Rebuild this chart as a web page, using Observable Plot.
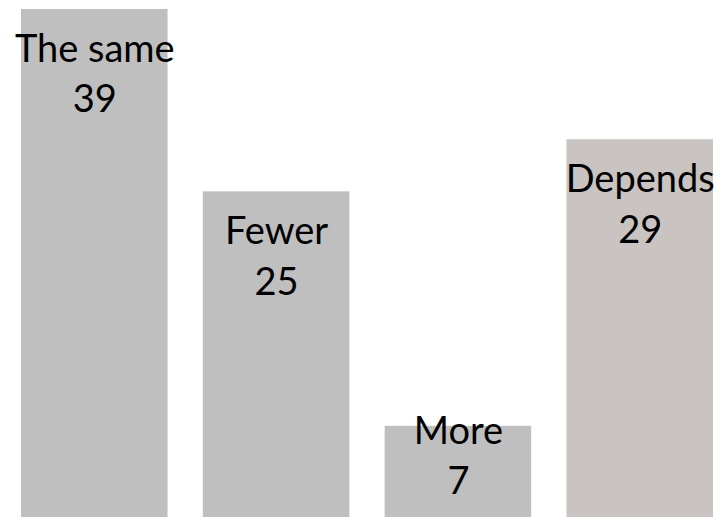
<!DOCTYPE html>
<html>
<head>
<meta charset="utf-8">
<script src="https://cdn.jsdelivr.net/npm/d3@7"></script>
<script src="https://cdn.jsdelivr.net/npm/@observablehq/plot@0.6"></script>
<style>
  html, body { margin: 0; padding: 0; background: #fff; }
  #chart svg { display: block; }
</style>
</head>
<body>
<div id="chart"></div>
<script>
const categories = ["The same", "Fewer", "More", "Depends"];
const values = [39, 25, 7, 29];
const colors = ["#bfbfbf", "#bfbfbf", "#bfbfbf", "#c9c4c2"];

const data = categories.map((c, i) => ({category: c, value: values[i], color: colors[i]}));

const chart = Plot.plot({
  width: 720,
  height: 517,
  marginTop: 9,
  marginBottom: 0,
  marginLeft: 21,
  marginRight: 7,
  style: {fontFamily: "Lato, sans-serif", background: "#fff"},
  x: {domain: categories, paddingInner: 0.194, paddingOuter: 0, round: false, axis: null},
  y: {domain: [0, 39], axis: null},
  marks: [
    Plot.barY(data, {x: "category", y: "value", fill: "color"}),
    Plot.text(data, {
      x: "category",
      y: d => Math.max(d.value, 9.7),
      text: d => `${d.category}\n${d.value}`,
      lineAnchor: "top",
      lineHeight: 1.32,
      dy: 17,
      fontSize: 38,
      fill: "#000"
    })
  ]
});
document.getElementById("chart").appendChild(chart);
</script>
</body>
</html>
